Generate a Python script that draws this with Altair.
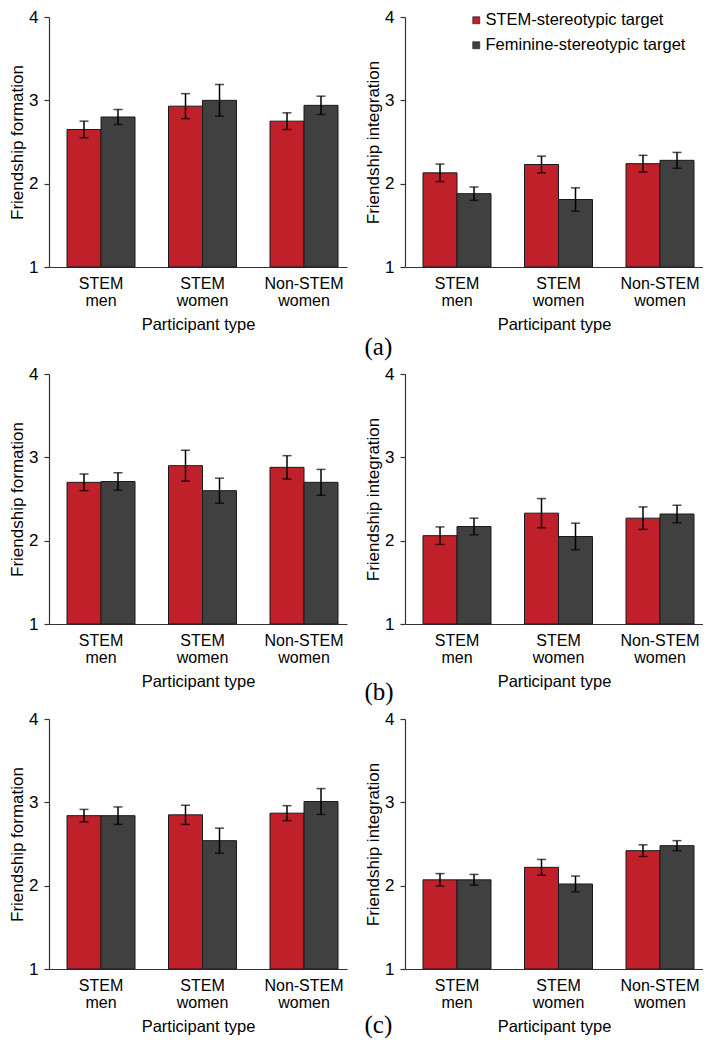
import altair as alt
import pandas as pd

participants = ["STEM men", "STEM women", "Non-STEM women"]
targets = ["STEM-stereotypic target", "Feminine-stereotypic target"]
measures = ["Friendship formation", "Friendship integration"]
panel_labels = ["(a)", "(b)", "(c)"]

# (a)
a_form_stem = [2.65, 2.93, 2.75]
a_form_stem_se = [0.10, 0.15, 0.10]
a_form_fem = [2.80, 3.00, 2.94]
a_form_fem_se = [0.09, 0.19, 0.11]
a_int_stem = [2.13, 2.23, 2.24]
a_int_stem_se = [0.105, 0.10, 0.10]
a_int_fem = [1.88, 1.81, 2.28]
a_int_fem_se = [0.08, 0.14, 0.095]
# (b)
b_form_stem = [2.70, 2.90, 2.88]
b_form_stem_se = [0.10, 0.185, 0.14]
b_form_fem = [2.71, 2.60, 2.70]
b_form_fem_se = [0.105, 0.15, 0.155]
b_int_stem = [2.06, 2.33, 2.27]
b_int_stem_se = [0.105, 0.175, 0.135]
b_int_fem = [2.17, 2.05, 2.32]
b_int_fem_se = [0.10, 0.16, 0.105]
# (c)
c_form_stem = [2.84, 2.85, 2.87]
c_form_stem_se = [0.075, 0.115, 0.09]
c_form_fem = [2.84, 2.54, 3.01]
c_form_fem_se = [0.105, 0.15, 0.155]
c_int_stem = [2.07, 2.22, 2.42]
c_int_stem_se = [0.075, 0.095, 0.07]
c_int_fem = [2.07, 2.02, 2.48]
c_int_fem_se = [0.065, 0.095, 0.06]

RED = "#c0202a"
DARK = "#404040"
SANS = "Liberation Sans"
SERIF = "Liberation Serif"
W, H = 298, 250


def make_df(stem, stem_se, fem, fem_se):
    rows = []
    for i, p in enumerate(participants):
        rows.append({"participant": p, "target": targets[0], "mean": stem[i],
                     "lo": stem[i] - stem_se[i], "hi": stem[i] + stem_se[i]})
        rows.append({"participant": p, "target": targets[1], "mean": fem[i],
                     "lo": fem[i] - fem_se[i], "hi": fem[i] + fem_se[i]})
    return pd.DataFrame(rows)


def panel(stem, stem_se, fem, fem_se, ytitle, legend=False, label=None, label_offset=0):
    df = make_df(stem, stem_se, fem, fem_se)
    yaxis = alt.Axis(values=[1, 2, 3, 4], format="d", title=ytitle, grid=False,
                     labelFontSize=17, titleFontSize=17, tickSize=5,
                     labelPadding=6, titlePadding=2, titleFontWeight="normal")
    yscale = alt.Scale(domain=[1, 4], nice=False, zero=False)
    base = alt.Chart(df).encode(
        x=alt.X("participant:N", sort=participants,
                scale=alt.Scale(paddingInner=0.33, paddingOuter=0.133, align=0.667),
                axis=alt.Axis(title="Participant type", labelAngle=0, ticks=False,
                              labelExpr="split(datum.value, ' ')",
                              labelFontSize=16, labelLineHeight=17.5, labelPadding=8,
                              titleFontSize=16.5, titlePadding=8,
                              titleFontWeight="normal")),
        xOffset=alt.XOffset("target:N", sort=targets,
                            scale=alt.Scale(paddingInner=0, paddingOuter=0)),
    )
    if legend:
        leg = alt.Legend(orient="none", legendX=63, legendY=-5, title=None,
                         direction="vertical", symbolType="square", symbolSize=49,
                         symbolStrokeColor="#111", symbolStrokeWidth=0.6,
                         labelFontSize=16.5, labelFont=SANS, labelColor="black",
                         labelLimit=0, rowPadding=8, labelOffset=1, padding=0)
    else:
        leg = None
    bars = base.mark_bar(stroke="#1a1a1a", strokeWidth=1).encode(
        y=alt.Y("mean:Q", scale=yscale, axis=yaxis),
        y2=alt.datum(1),
        color=alt.Color("target:N", sort=targets,
                        scale=alt.Scale(domain=targets, range=[RED, DARK]),
                        legend=leg),
    )
    rule = base.mark_rule(color="black", strokeWidth=1.5).encode(
        y=alt.Y("lo:Q", scale=yscale, axis=yaxis), y2="hi:Q")
    tlo = base.mark_tick(color="black", thickness=1.5, size=9).encode(
        y=alt.Y("lo:Q", scale=yscale, axis=yaxis))
    thi = base.mark_tick(color="black", thickness=1.5, size=9).encode(
        y=alt.Y("hi:Q", scale=yscale, axis=yaxis))
    props = dict(width=W, height=H)
    if label:
        props["title"] = alt.TitleParams(label, orient="bottom", anchor="start",
                                         frame="bounds", font=SERIF, fontSize=25,
                                         fontWeight="normal", color="black",
                                         offset=label_offset)
    return alt.layer(bars, rule, tlo, thi).properties(**props)


def row(left, right):
    return alt.hconcat(left, right, spacing=17).resolve_scale(
        color="independent").resolve_legend(color="independent")


row_a = row(
    panel(a_form_stem, a_form_stem_se, a_form_fem, a_form_fem_se, measures[0]),
    panel(a_int_stem, a_int_stem_se, a_int_fem, a_int_fem_se, measures[1],
          legend=True, label=panel_labels[0], label_offset=2))
row_b = row(
    panel(b_form_stem, b_form_stem_se, b_form_fem, b_form_fem_se, measures[0]),
    panel(b_int_stem, b_int_stem_se, b_int_fem, b_int_fem_se, measures[1],
          label=panel_labels[1], label_offset=-10))
row_c = row(
    panel(c_form_stem, c_form_stem_se, c_form_fem, c_form_fem_se, measures[0]),
    panel(c_int_stem, c_int_stem_se, c_int_fem, c_int_fem_se, measures[1],
          label=panel_labels[2], label_offset=-22))

chart = alt.vconcat(row_a, row_b, row_c, spacing=5).resolve_scale(
    color="independent").resolve_legend(color="independent").properties(
    padding=0
).configure_view(stroke=None).configure_axis(
    labelFont=SANS, titleFont=SANS, labelColor="black", titleColor="black",
    domainColor="#333", tickColor="#333", domainWidth=1.2, tickWidth=1.2
).configure_legend(labelFont=SANS)

chart.save("out.html", embed_options={"renderer": "svg", "actions": False})
